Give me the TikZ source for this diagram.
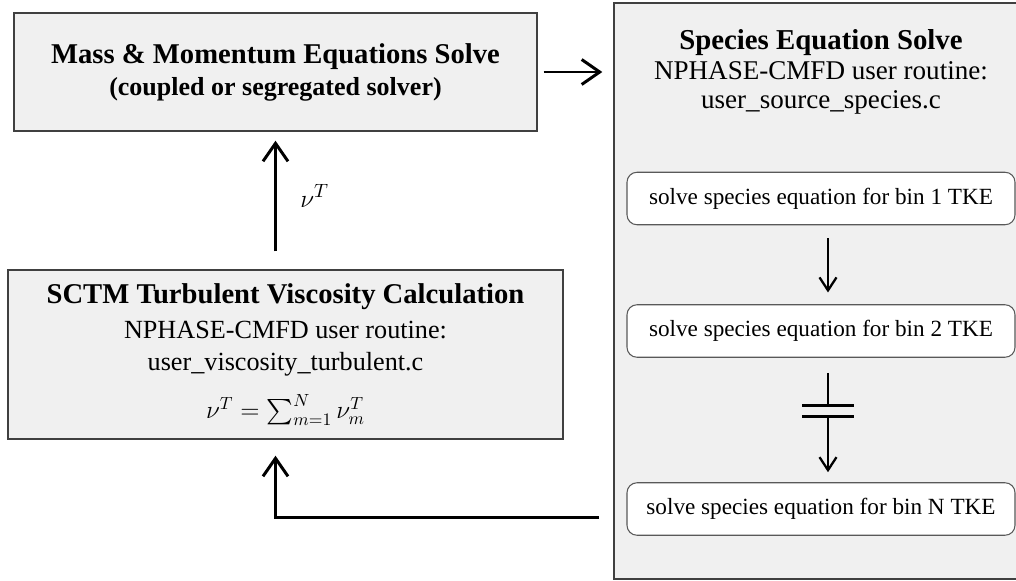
\documentclass[tikz,border=0pt]{standalone}
\usepackage{fontspec}
\setmainfont{Liberation Serif}
\usepackage{amsmath}
\usetikzlibrary{arrows.meta}

\begin{document}
\begin{tikzpicture}[line width=0.8pt,>={Straight Barb[length=3.6mm,width=5mm]},
  solvebox/.style={draw=black!75,fill=black!6,line width=0.8pt,align=center,inner sep=0pt},
  binbox/.style={draw=black!65,fill=white,rounded corners=0.2cm,line width=0.6pt,
    minimum width=7.76cm,minimum height=1.05cm,inner sep=0pt,font=\fontsize{13.2}{15}\selectfont},
  flow/.style={->,line width=1.7pt},
  binflow/.style={-{Straight Barb[length=2.6mm,width=3.4mm]},line width=1.3pt}]
\useasboundingbox (0,0) rectangle (20.32,-11.6);
% ================= left column =================
\node[solvebox,minimum width=10.46cm,minimum height=2.36cm,font=\fontsize{14.8}{18.2}\selectfont\bfseries]
  (massbox) at (5.51,-1.44)
  {{\fontsize{16.3}{18.2}\selectfont Mass \& Momentum Equations Solve}\\
   (coupled or segregated solver)};
\node[solvebox,minimum width=11.1cm,minimum height=3.38cm,font=\fontsize{14.9}{18.2}\selectfont]
  (sctmbox) at (5.71,-7.09)
  {{\fontsize{16.3}{18.2}\selectfont\bfseries SCTM Turbulent Viscosity Calculation}\\[2pt]
   NPHASE-CMFD user routine:\\
   user\_viscosity\_turbulent.c\\[9pt]
   $\nu^{T}=\sum_{m=1}^{N}\nu_{m}^{T}$};
% ================= species panel =================
\node[solvebox,minimum width=8.32cm,minimum height=11.52cm] (specpanel) at (16.44,-5.82) {};
\node[align=center,font=\fontsize{15.4}{17}\selectfont] (spectitle) at (16.42,-1.44)
  {{\fontsize{16.4}{17}\selectfont\bfseries Species Equation Solve}\\
   NPHASE-CMFD user routine:\\
   user\_source\_species.c};
\node[binbox] (bin1) at (16.42,-3.97) {solve species equation for bin 1 TKE};
\node[binbox] (bin2) at (16.42,-6.62) {solve species equation for bin 2 TKE};
\node[binbox] (binN) at (16.42,-10.18) {solve species equation for bin N TKE};
\draw[binflow] ([xshift=0.14cm,yshift=-0.26cm]bin1.south) -- ([xshift=0.14cm,yshift=0.235cm]bin2.north);
% broken link between bin 2 and bin N
\coordinate (gapT) at ([xshift=0.14cm,yshift=-0.955cm]bin2.south);
\coordinate (gapB) at ([xshift=0.14cm,yshift=-1.175cm]bin2.south);
\draw[line width=1.3pt] ([xshift=0.14cm,yshift=-0.3cm]bin2.south) -- (gapT);
\draw[line width=1.3pt] ([xshift=-0.52cm]gapT) -- ([xshift=0.52cm]gapT);
\draw[line width=1.3pt] ([xshift=-0.52cm]gapB) -- ([xshift=0.52cm]gapB);
\draw[binflow] (gapB) -- ([xshift=0.14cm,yshift=0.2cm]binN.north);
% ================= loop arrows =================
\draw[flow] ([xshift=0.12cm]massbox.east) -- ([xshift=-0.22cm]massbox.east -| specpanel.west);
\draw[flow] ([yshift=0.36cm]sctmbox.north -| massbox.south) --
  node[right=0.35cm,font=\fontsize{15}{18}\selectfont] (nulabel) {$\nu^{T}$}
  ([yshift=-0.18cm]massbox.south);
\coordinate (fb) at (11.98,-10.34);
\draw[flow] (fb) -| ([yshift=-0.32cm]sctmbox.south -| massbox.south);
\end{tikzpicture}
\end{document}
